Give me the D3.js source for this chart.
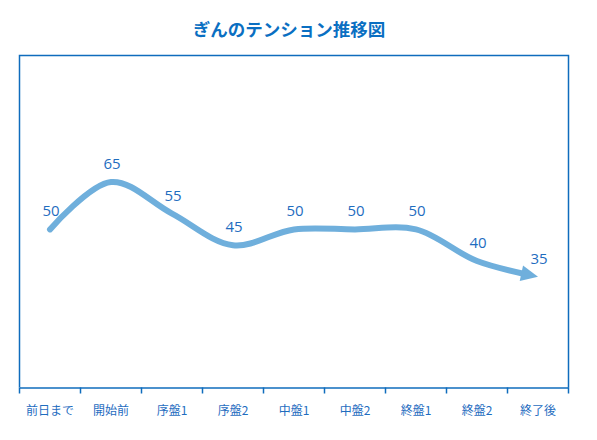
<!DOCTYPE html>
<html><head><meta charset="utf-8">
<script src="https://cdn.jsdelivr.net/npm/d3@7"></script>
<style>
html,body{margin:0;padding:0;background:#fff;}
svg{display:block;}
</style></head>
<body>
<svg id="chart" width="597" height="440"></svg>
<script>
const title = "ぎんのテンション推移図";
const categories = ["前日まで","開始前","序盤1","序盤2","中盤1","中盤2","終盤1","終盤2","終了後"];
const values = [50,65,55,45,50,50,50,40,35];
const yDomain = [0,105];

const W=597,H=440;
const margin={left:19.5,right:W-568.5,top:55.5,bottom:H-387.5};
const svg=d3.select("#chart");
const x=d3.scaleBand().domain(categories).range([margin.left,W-margin.right]).padding(0);
const y=d3.scaleLinear().domain(yDomain).range([H-margin.bottom,margin.top]);
const cx=d=>x(d)+x.bandwidth()/2;
const borderColor="#0f6cbd";
const textBlue="#1f6dbf";
const lineColor="#6fafdc";

svg.append("text").attr("x",289).attr("y",36).attr("text-anchor","middle")
  .attr("font-family","'Noto Sans CJK JP','Noto Sans',sans-serif").attr("font-weight","bold")
  .attr("font-size",17.5).attr("fill","#0a6fc2").text(title);

// frame: left, top, right
svg.append("path")
  .attr("d",`M${margin.left},${y.range()[0]}V${margin.top}H${W-margin.right}V${y.range()[0]}`)
  .attr("fill","none").attr("stroke",borderColor).attr("stroke-width",1.5);

// x axis
const xAxis=d3.axisBottom(x).tickSize(0).tickPadding(0);
const gx=svg.append("g").attr("transform",`translate(0,${y.range()[0]})`).call(xAxis);
gx.select(".domain").attr("stroke",borderColor).attr("stroke-width",1.5);
gx.selectAll(".tick text").attr("font-family","'Noto Sans CJK JP','Noto Sans',sans-serif")
  .attr("font-size",12).attr("fill",textBlue).attr("dy",0).attr("y",27);
const bounds=categories.map(c=>x(c)).concat([x.range()[1]]);
gx.selectAll(".bt").data(bounds).join("line").attr("class","bt")
  .attr("x1",d=>d).attr("x2",d=>d).attr("y1",0).attr("y2",6)
  .attr("stroke",borderColor).attr("stroke-width",1.5);

const line=d3.line().x((d,i)=>cx(categories[i])).y(d=>y(d)).curve(d3.curveCatmullRom.alpha(0.5));
const p=svg.append("path").datum(values).attr("d",line)
  .attr("fill","none").attr("stroke",lineColor).attr("stroke-width",6)
  .attr("stroke-linecap","round");

// arrowhead at the end, tip on the last point
const node=p.node();
const L=node.getTotalLength();
const headLen=17, headW=16;
const tip=node.getPointAtLength(L);
const back=node.getPointAtLength(L-headLen);
const dx=tip.x-back.x, dy=tip.y-back.y, n=Math.hypot(dx,dy);
const ux=dx/n, uy=dy/n;
const bx=tip.x-ux*headLen, by=tip.y-uy*headLen;
p.attr("stroke-dasharray",`${L-headLen+3} ${L+10}`);
svg.append("path")
  .attr("d",`M${tip.x},${tip.y}L${bx-uy*headW/2},${by+ux*headW/2}L${bx+uy*headW/2},${by-ux*headW/2}Z`)
  .attr("fill",lineColor);

svg.selectAll(".lbl").data(values).join("text").attr("class","lbl")
  .attr("x",(d,i)=>cx(categories[i])+1).attr("y",d=>y(d)-13)
  .attr("text-anchor","middle").attr("font-family","'Open Sans','Noto Sans',sans-serif")
  .attr("font-size",15).attr("fill",textBlue).text(d=>d);
</script>
</body></html>
